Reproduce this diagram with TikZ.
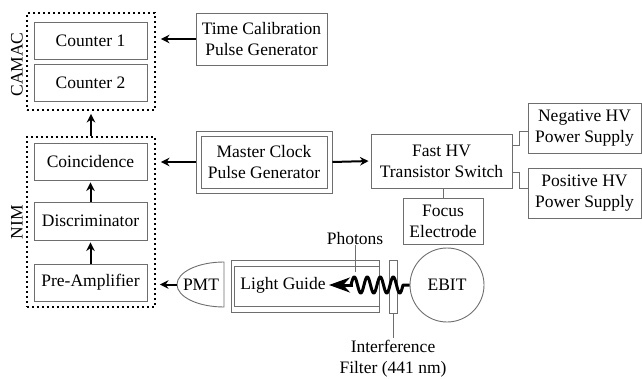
\documentclass[tikz,border=0pt]{standalone}
\usepackage{fontspec}
\setmainfont{Liberation Serif}
\usetikzlibrary{arrows.meta,calc}
\definecolor{boxgray}{RGB}{110,110,110}
\begin{document}
\begin{tikzpicture}[x=1pt,y=-1pt,
  every node/.style={font=\fontsize{17.5}{21}\selectfont, inner sep=0pt, align=center},
  box/.style={draw=boxgray, line width=0.9pt, rectangle},
  dotbox/.style={draw=black, line width=1.9pt, dash pattern=on 2pt off 3pt, rectangle},
  arr/.style={line width=2pt, -{Stealth[length=8.5pt,width=8.5pt]}},
  thinl/.style={draw=boxgray, line width=0.9pt}]
\useasboundingbox (0,0) rectangle (642,379);

% CAMAC
\node[box, minimum width=113pt, minimum height=37pt] (cnt1) at (90.5,40.5) {Counter 1};
\node[box, minimum width=113pt, minimum height=37pt] (cnt2) at (90.5,82.5) {Counter 2};
\node[dotbox, minimum width=128pt, minimum height=97pt] (camac) at (91,61.5) {};
\node[rotate=90] (camaclbl) at (17,64.5) {CAMAC};

% NIM
\node[box, minimum width=113pt, minimum height=37pt] (coin) at (90.5,161.5) {Coincidence};
\node[box, minimum width=113pt, minimum height=38pt] (disc) at (90.5,221) {Discriminator};
\node[box, minimum width=113pt, minimum height=37pt] (pre) at (90.5,282.5) {Pre-Amplifier};
\node[dotbox, minimum width=128pt, minimum height=170pt] (nim) at (91,222) {};
\node[rotate=90] (nimlbl) at (17,222) {NIM};

% generators
\node[box, minimum width=131pt, minimum height=52pt] (tcal) at (261.5,39) {Time Calibration\\Pulse Generator};
\node[box, minimum width=126pt, minimum height=52pt] (clock) at (264,162) {Master Clock\\Pulse Generator};
\node[box, minimum width=136pt, minimum height=62pt] (clockout) at (264,162) {};

% HV
\node[box, minimum width=141pt, minimum height=54pt] (fast) at (441.5,161) {Fast HV\\Transistor Switch};
\node[box, minimum width=80pt, minimum height=46pt] (focus) at (443,221) {Focus\\Electrode};
\node[box, minimum width=113pt, minimum height=50pt] (neg) at (584.5,128) {Negative HV\\Power Supply};
\node[box, minimum width=113pt, minimum height=50pt] (pos) at (584.5,193) {Positive HV\\Power Supply};

% optics
\draw[thinl] (224,262) arc[start angle=90, end angle=270, x radius=47, y radius=-22.5] -- cycle;
\node (pmt) at (201,284.5) {PMT};
\coordinate (pmtw) at (177,284.5);
\draw[thinl] (231,260) rectangle (379,312);
\draw[thinl] (234,266) rectangle (379,306);
\node (lg) at (283,285) {Light Guide};
\node[box, minimum width=8pt, minimum height=53pt] (filter) at (393,286.5) {};
\node[circle, draw=boxgray, line width=0.9pt, minimum size=74pt] (ebit) at (447,285) {EBIT};
\node (ph) at (355,239) {Photons};
\coordinate (phend) at (355,272);
\coordinate (filterend) at (393,338);
\node (intf) at (393,358.5) {Interference\\Filter (441 nm)};

% wave
\coordinate (wstart) at (403,285);
\coordinate (wtip) at (329,285);
\draw[line width=3pt, line join=round] (ebit.west) -- (wstart) -- plot[domain=4:0, samples=120, variable=\t] ({351+13*\t},{285-8*sin(360*\t)});
\draw[line width=3pt, -{Stealth[length=21pt,width=15pt]}] (353,285) -- (wtip);

% connectors
\draw[arr, shorten >=5pt] (tcal.west) -- (tcal.west -| camac.east);
\draw[arr, shorten >=5pt] (clockout.west) -- (clockout.west -| nim.east);
\draw[arr, shorten >=3pt] (nim.north) -- (camac.south);
\draw[arr, shorten >=2pt] (disc.north) -- (coin.south);
\draw[arr, shorten >=2pt] (pre.north) -- (disc.south);
\draw[arr, shorten >=4pt] (pmtw) -- (pmtw -| nim.east);
\draw[arr, shorten >=2pt] (clockout.east) -- (fast.west);
\draw[thinl] ($(fast.east)+(0,-16)$) -- ++(7,0) |- ($(neg.west)+(0,3)$);
\draw[thinl] ($(fast.east)+(0,11)$) -- ++(7,0) |- ($(pos.west)+(0,-5)$);
\draw[thinl] (focus.north) -- (focus.north |- fast.south);
\draw[thinl] (ph.south) -- (phend);
\draw[thinl] (filter.south) -- (filterend);
\end{tikzpicture}
\end{document}
